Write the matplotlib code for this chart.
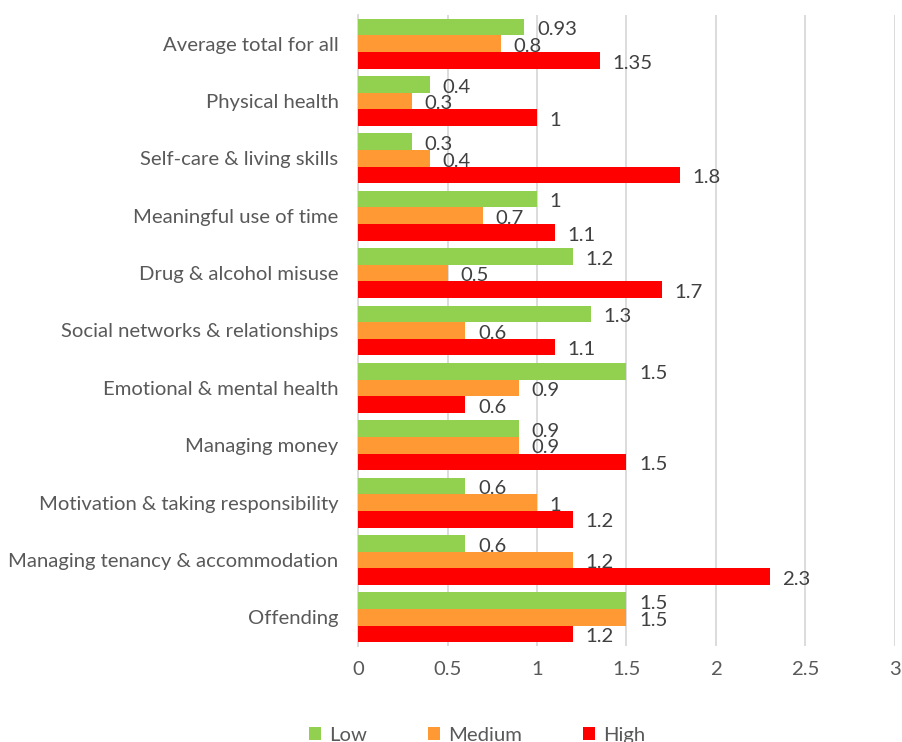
import matplotlib
matplotlib.use("Agg")
import matplotlib.pyplot as plt
import numpy as np

categories = [
    "Average total for all",
    "Physical health",
    "Self-care & living skills",
    "Meaningful use of time",
    "Drug & alcohol misuse",
    "Social networks & relationships",
    "Emotional & mental health",
    "Managing money",
    "Motivation & taking responsibility",
    "Managing tenancy & accommodation",
    "Offending",
]
low = [0.93, 0.4, 0.3, 1.0, 1.2, 1.3, 1.5, 0.9, 0.6, 0.6, 1.5]
medium = [0.8, 0.3, 0.4, 0.7, 0.5, 0.6, 0.9, 0.9, 1.0, 1.2, 1.5]
high = [1.35, 1.0, 1.8, 1.1, 1.7, 1.1, 0.6, 1.5, 1.2, 2.3, 1.2]
series_names = ["Low", "Medium", "High"]
colors = ["#92D050", "#FF9933", "#FF0000"]

text_color = "#595959"
grid_color = "#D9D9D9"
fs = 14.6
plt.rcParams["font.family"] = ["Lato", "DejaVu Sans"]

fig = plt.figure(figsize=(9.03, 7.42), dpi=100)
ax = fig.add_axes([0.3965, 0.1294, 0.5945, 0.8504])

y = np.arange(len(categories))
h = 0.29
offsets = [-h, 0, h]
for vals, name, col, off in zip([low, medium, high], series_names, colors, offsets):
    bars = ax.barh(y + off, vals, height=h, color=col, label=name, zorder=3)
    for b, v in zip(bars, vals):
        ax.annotate(f"{v:g}", (v, b.get_y() + b.get_height() / 2),
                    xytext=(9, -2), textcoords="offset points",
                    va="center", ha="left", fontsize=fs, color="#404040",
                    zorder=4)

ax.set_xlim(0, 3)
ax.set_ylim(len(categories) - 0.5, -0.5)
ax.set_xticks(np.arange(0, 3.01, 0.5))
ax.set_xticklabels(["0", "0.5", "1", "1.5", "2", "2.5", "3"])
ax.set_yticks(y)
ax.set_yticklabels(categories)
ax.grid(axis="x", color=grid_color, linewidth=1.3, zorder=0)
for s in ["top", "right", "bottom"]:
    ax.spines[s].set_visible(False)
ax.spines["left"].set_color(grid_color)
ax.spines["left"].set_linewidth(1.3)
ax.tick_params(axis="y", length=0, pad=14, labelsize=fs, labelcolor=text_color)
ax.tick_params(axis="x", length=0, pad=11, labelsize=fs, labelcolor=text_color)

fig.legend(loc="center", bbox_to_anchor=(0.528, 0.0094), ncol=3, frameon=False,
           fontsize=fs, labelcolor=text_color, handlelength=0.6, handleheight=0.6,
           handletextpad=0.4, columnspacing=3.0)

fig.savefig("out.png", dpi=100)
